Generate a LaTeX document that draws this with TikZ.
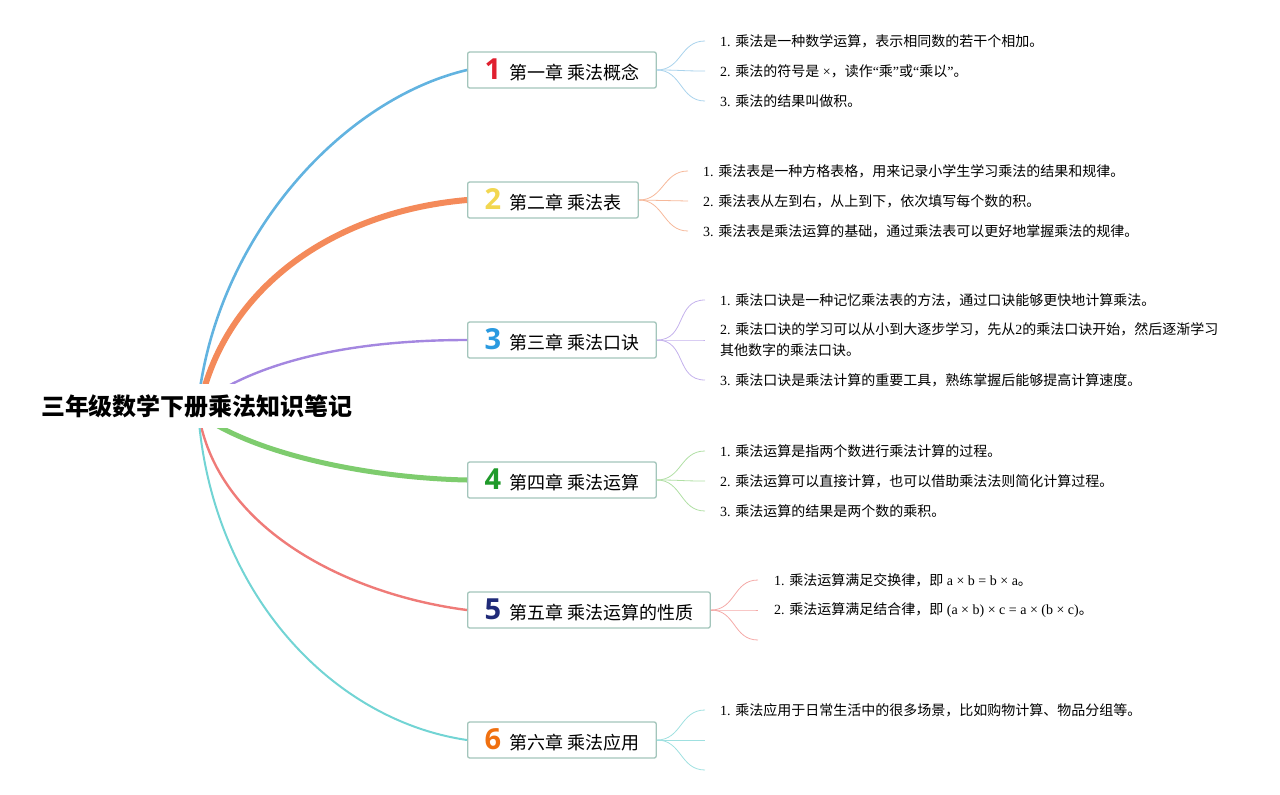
\documentclass[tikz,border=0pt]{standalone}
\usepackage{fontspec}
\setmainfont{Liberation Serif}
\newfontfamily\cjk{Noto Sans CJK SC}
\newfontfamily\digfont{Open Sans}
\definecolor{chapborder}{HTML}{A3C5BB}
\definecolor{cA}{HTML}{62B3E0}
\definecolor{cB}{HTML}{F48A5A}
\definecolor{cC}{HTML}{A487E0}
\definecolor{cD}{HTML}{7ECC6E}
\definecolor{cE}{HTML}{EF7B78}
\definecolor{cF}{HTML}{72D4D4}
\definecolor{lA}{HTML}{A9D3EC}
\definecolor{lB}{HTML}{F6B89A}
\definecolor{lC}{HTML}{C4B2EC}
\definecolor{lD}{HTML}{B0DFA4}
\definecolor{lE}{HTML}{F4A9A7}
\definecolor{lF}{HTML}{9FE0E0}
\definecolor{dA}{HTML}{E0202F}
\definecolor{dB}{HTML}{F2D750}
\definecolor{dC}{HTML}{2A9AE0}
\definecolor{dD}{HTML}{1F9A2A}
\definecolor{dE}{HTML}{1F2A78}
\definecolor{dF}{HTML}{F07010}
\newcommand{\dg}[2]{{\digfont\bfseries\fontsize{29}{29}\selectfont\color{#1}#2}\hspace{8pt}}
\begin{document}
\begin{tikzpicture}[x=1pt,y=-1pt]
\tikzset{
  chap/.style={draw=chapborder, line width=1.3pt, rounded corners=2pt, fill=white,
    minimum height=36pt, inner xsep=17pt, inner ysep=0pt, anchor=west,
    font=\cjk\fontsize{18}{18}\selectfont},
  leaf/.style={anchor=west, inner sep=0pt, font=\fontsize{14}{21}\selectfont, align=left},
  leafline/.style={line width=0.8pt},
  rootnode/.style={font=\cjk\bfseries\fontsize{24}{24}\selectfont, inner xsep=3pt,
    minimum height=44pt, fill=white}
}
\useasboundingbox (0,0) rectangle (1280,795);

% chapter nodes
\node[chap] (n1) at (467,70) {\dg{dA}{1}第一章 乘法概念};
\node[chap] (n2) at (467,200) {\dg{dB}{2}第二章 乘法表};
\node[chap] (n3) at (467,340) {\dg{dC}{3}第三章 乘法口诀};
\node[chap] (n4) at (467,480) {\dg{dD}{4}第四章 乘法运算};
\node[chap] (n5) at (467,610) {\dg{dE}{5}第五章 乘法运算的性质};
\node[chap] (n6) at (467,740) {\dg{dF}{6}第六章 乘法应用};

% hub coordinates behind the root
\coordinate (h1) at (198,405);
\coordinate (h2) at (200,405);
\coordinate (h3) at (205,400);
\coordinate (h4) at (205,418);
\coordinate (h5) at (198,410);
\coordinate (h6) at (198,410);

\draw[cA, line width=2.6pt] (h1) .. controls (215,240) and (340,100) .. (n1.west);
\draw[cB, line width=6pt] (h2) .. controls (225,290) and (330,212) .. (n2.west);
\draw[cC, line width=2.4pt] (h3) .. controls (270,355) and (370,340) .. (n3.west);
\draw[cD, line width=5pt] (h4) .. controls (260,455) and (370,478) .. (n4.west);
\draw[cE, line width=2.4pt] (h5) .. controls (215,530) and (350,595) .. (n5.west);
\draw[cF, line width=2pt] (h6) .. controls (210,590) and (330,720) .. (n6.west);

\node[rootnode] (root) at (197,406) {三年级数学下册乘法知识笔记};

% leaf end coordinates
\coordinate (a1) at (705,41);  \coordinate (a2) at (705,71);  \coordinate (a3) at (705,101);
\coordinate (b1) at (688,171); \coordinate (b2) at (688,201); \coordinate (b3) at (688,231);
\coordinate (c1) at (705,300); \coordinate (c2) at (705,340); \coordinate (c3) at (705,380);
\coordinate (d1) at (705,451); \coordinate (d2) at (705,481); \coordinate (d3) at (705,511);
\coordinate (e1) at (758,580); \coordinate (e2) at (758,610); \coordinate (e3) at (758,640);
\coordinate (f1) at (705,710); \coordinate (f2) at (705,740); \coordinate (f3) at (705,770);

\foreach \c in {a1,a2,a3}{\draw[leafline,lA] (n1.east) .. controls +(25,0) and +(-25,0) .. (\c);}
\foreach \c in {b1,b2,b3}{\draw[leafline,lB] (n2.east) .. controls +(25,0) and +(-25,0) .. (\c);}
\foreach \c in {c1,c2,c3}{\draw[leafline,lC] (n3.east) .. controls +(30,0) and +(-30,0) .. (\c);}
\foreach \c in {d1,d2,d3}{\draw[leafline,lD] (n4.east) .. controls +(25,0) and +(-25,0) .. (\c);}
\foreach \c in {e1,e2,e3}{\draw[leafline,lE] (n5.east) .. controls +(25,0) and +(-25,0) .. (\c);}
\foreach \c in {f1,f2,f3}{\draw[leafline,lF] (n6.east) .. controls +(25,0) and +(-25,0) .. (\c);}

% leaf texts
\node[leaf] (ta1) at (720,41) {1. {\cjk 乘法是一种数学运算，表示相同数的若干个相加。}};
\node[leaf] (ta2) at (720,71) {2. {\cjk 乘法的符号是} ×{\cjk ，读作}“{\cjk 乘}”{\cjk 或}“{\cjk 乘以}”{\cjk 。}};
\node[leaf] (ta3) at (720,101) {3. {\cjk 乘法的结果叫做积。}};

\node[leaf] (tb1) at (703,171) {1. {\cjk 乘法表是一种方格表格，用来记录小学生学习乘法的结果和规律。}};
\node[leaf] (tb2) at (703,201) {2. {\cjk 乘法表从左到右，从上到下，依次填写每个数的积。}};
\node[leaf] (tb3) at (703,231) {3. {\cjk 乘法表是乘法运算的基础，通过乘法表可以更好地掌握乘法的规律。}};

\node[leaf] (tc1) at (720,300) {1. {\cjk 乘法口诀是一种记忆乘法表的方法，通过口诀能够更快地计算乘法。}};
\node[leaf] (tc2) at (720,340) {2. {\cjk 乘法口诀的学习可以从小到大逐步学习，先从}2{\cjk 的乘法口诀开始，然后逐渐学习}\\{\cjk 其他数字的乘法口诀。}};
\node[leaf] (tc3) at (720,380) {3. {\cjk 乘法口诀是乘法计算的重要工具，熟练掌握后能够提高计算速度。}};

\node[leaf] (td1) at (720,451) {1. {\cjk 乘法运算是指两个数进行乘法计算的过程。}};
\node[leaf] (td2) at (720,481) {2. {\cjk 乘法运算可以直接计算，也可以借助乘法法则简化计算过程。}};
\node[leaf] (td3) at (720,511) {3. {\cjk 乘法运算的结果是两个数的乘积。}};

\node[leaf] (te1) at (774,580) {1. {\cjk 乘法运算满足交换律，即} a × b = b × a{\cjk 。}};
\node[leaf] (te2) at (774,610) {2. {\cjk 乘法运算满足结合律，即} (a × b) × c = a × (b × c){\cjk 。}};

\node[leaf] (tf1) at (720,710) {1. {\cjk 乘法应用于日常生活中的很多场景，比如购物计算、物品分组等。}};
\end{tikzpicture}
\end{document}
